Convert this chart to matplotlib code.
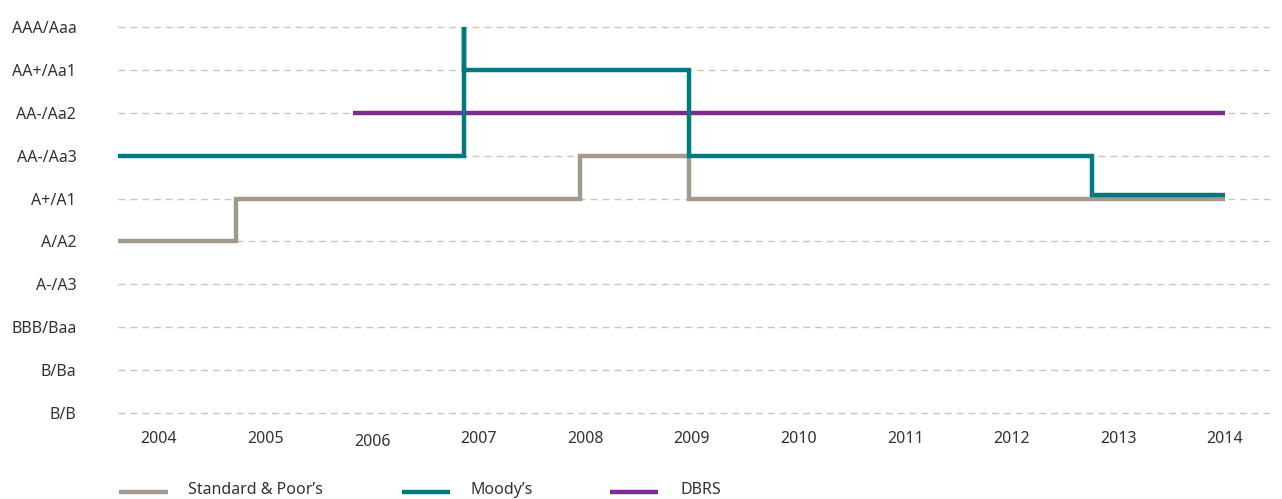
import matplotlib
matplotlib.use("Agg")
import matplotlib.pyplot as plt
from matplotlib.lines import Line2D
import matplotlib.transforms as mtransforms

plt.rcParams['font.family'] = ['Noto Sans', 'DejaVu Sans']

rating_labels = ["B/B", "B/Ba", "BBB/Baa", "A-/A3", "A/A2", "A+/A1",
                 "AA-/Aa3", "AA-/Aa2", "AA+/Aa1", "AAA/Aaa"]
years = [2004, 2005, 2006, 2007, 2008, 2009, 2010, 2011, 2012, 2013, 2014]

# step series: (time, rating index) change points
sp_x = [2003.62, 2004.72, 2004.72, 2007.95, 2007.95, 2008.97, 2008.97, 2014.0]
sp_y = [4, 4, 5, 5, 6, 6, 5, 5]

moody_x = [2003.62, 2006.86, 2006.86, 2006.86, 2008.97, 2008.97, 2012.75, 2012.75, 2014.0]
moody_y = [6, 6, 9, 8, 8, 6, 6, 5.07, 5.07]

dbrs_x = [2005.82, 2014.0]
dbrs_y = [7, 7]

c_sp = "#a39a8f"
c_moody = "#007a80"
c_dbrs = "#7b2d8e"
c_text = "#333333"

W, H = 1282, 499
fig = plt.figure(figsize=(W / 100, H / 100), dpi=100)

x_left_px, x_right_px = 118, 1270
y0 = -0.2
y1 = 9.2
top_px = 413 - 9.2 * 42.9
bot_px = 413 + 0.2 * 42.9
ax = fig.add_axes([x_left_px / W, 1 - bot_px / H, (x_right_px - x_left_px) / W,
                   (bot_px - top_px) / H])

px_per_year = 106.6
xmin = 2004 + (x_left_px - 159) / px_per_year
xmax = 2004 + (x_right_px - 159) / px_per_year
ax.set_xlim(xmin, xmax)
ax.set_ylim(y0, y1)

for i in range(len(rating_labels)):
    ax.axhline(i, color="#ccc6be", lw=1.0, ls=(0, (5, 3.5)), zorder=1)

ax.plot(dbrs_x, dbrs_y, color=c_dbrs, lw=3.2, solid_capstyle="butt", zorder=3)
ax.plot(sp_x, sp_y, color=c_sp, lw=3.2, solid_capstyle="butt",
        solid_joinstyle="miter", zorder=4)
ax.plot(moody_x, moody_y, color=c_moody, lw=3.2, solid_capstyle="butt",
        solid_joinstyle="miter", zorder=5)

ax.set_yticks(range(len(rating_labels)))
ax.set_yticklabels(rating_labels)
ax.set_xticks(years)
ax.set_xticklabels([str(y) for y in years])
ax.tick_params(axis="y", length=0, pad=30, labelsize=11.5, labelcolor=c_text)
ax.tick_params(axis="x", length=0, pad=6.5, labelsize=11.5, labelcolor=c_text)
for s in ax.spines.values():
    s.set_visible(False)

# 2006 label sits slightly lower in the reference
for lbl in ax.get_xticklabels():
    if lbl.get_text() == "2006":
        lbl.set_transform(lbl.get_transform() +
                          mtransforms.ScaledTranslation(0, -3 / 100, fig.dpi_scale_trans))

# legend at bottom
ly = 1 - 492 / H
entries = [(119, 168, 188, c_sp, "Standard & Poor\u2019s"),
           (402, 450, 470, c_moody, "Moody\u2019s"),
           (610, 658, 680, c_dbrs, "DBRS")]
for xa, xb, xt, c, t in entries:
    fig.add_artist(Line2D([xa / W, xb / W], [ly, ly], color=c, lw=3.2,
                          solid_capstyle="butt", transform=fig.transFigure))
    fig.text(xt / W, 1 - 494.5 / H, t, fontsize=11.5, color=c_text,
             va="baseline", ha="left")

fig.savefig("out.png", dpi=100, facecolor="white")
